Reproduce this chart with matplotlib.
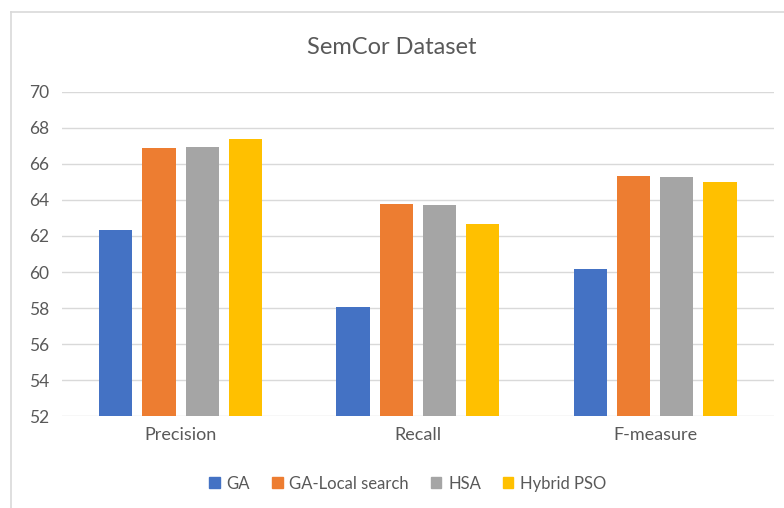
import numpy as np
import matplotlib
matplotlib.use("Agg")
import matplotlib.pyplot as plt
from matplotlib.lines import Line2D

plt.rcParams['font.family'] = ['Lato', 'DejaVu Sans']

categories = ["Precision", "Recall", "F-measure"]
series_names = ["GA", "GA-Local search", "HSA", "Hybrid PSO"]
ga = [62.35, 58.05, 60.15]
ga_local = [66.9, 63.8, 65.35]
hsa = [66.95, 63.7, 65.3]
hybrid_pso = [67.38, 62.68, 65.0]
colors = ["#4472C4", "#ED7D31", "#A5A5A5", "#FFC000"]

text_color = "#595959"
grid_color = "#D9D9D9"

fig = plt.figure(figsize=(7.84, 5.08), dpi=100)
ax = fig.add_axes([0.079, 0.181, 0.908, 0.638])

x = np.arange(len(categories))
width = 0.14
pitch = 0.182
for i, (vals, name) in enumerate(zip([ga, ga_local, hsa, hybrid_pso], series_names)):
    offs = (i - 1.5) * pitch
    ax.bar(x + offs, np.array(vals) - 52, width, bottom=52, color=colors[i],
           label=name, zorder=3)

ax.set_xlim(-0.5, 2.5)
ax.set_ylim(52, 70)
ax.set_yticks(np.arange(52, 71, 2))
ax.grid(axis="y", color=grid_color, linewidth=1, zorder=0)
for s in ax.spines.values():
    s.set_visible(False)
ax.tick_params(axis="both", length=0, colors=text_color)
ax.tick_params(axis="y", pad=9, labelsize=12.5)
ax.tick_params(axis="x", pad=8, labelsize=13)
ax.set_xticks(x)
ax.set_xticklabels(categories)

fig.text(0.5, 0.907, "SemCor Dataset", ha="center", va="center",
         fontsize=17, color=text_color)

handles = [plt.Rectangle((0, 0), 1, 1, color=c) for c in colors]
fig.legend(handles, series_names, loc="center", bbox_to_anchor=(0.52, 0.048),
           ncol=4, frameon=False, fontsize=12, labelcolor=text_color,
           handlelength=0.65, handleheight=0.65, handletextpad=0.4, columnspacing=1.3)

# outer chart border (left and top edges visible in the crop)
fig.add_artist(Line2D([11 / 784, 11 / 784], [0, 1 - 12 / 508], transform=fig.transFigure,
                      color="#D9D9D9", linewidth=1.2))
fig.add_artist(Line2D([11 / 784, 1], [1 - 12 / 508, 1 - 12 / 508], transform=fig.transFigure,
                      color="#D9D9D9", linewidth=1.2))

fig.savefig("out.png", dpi=100)
